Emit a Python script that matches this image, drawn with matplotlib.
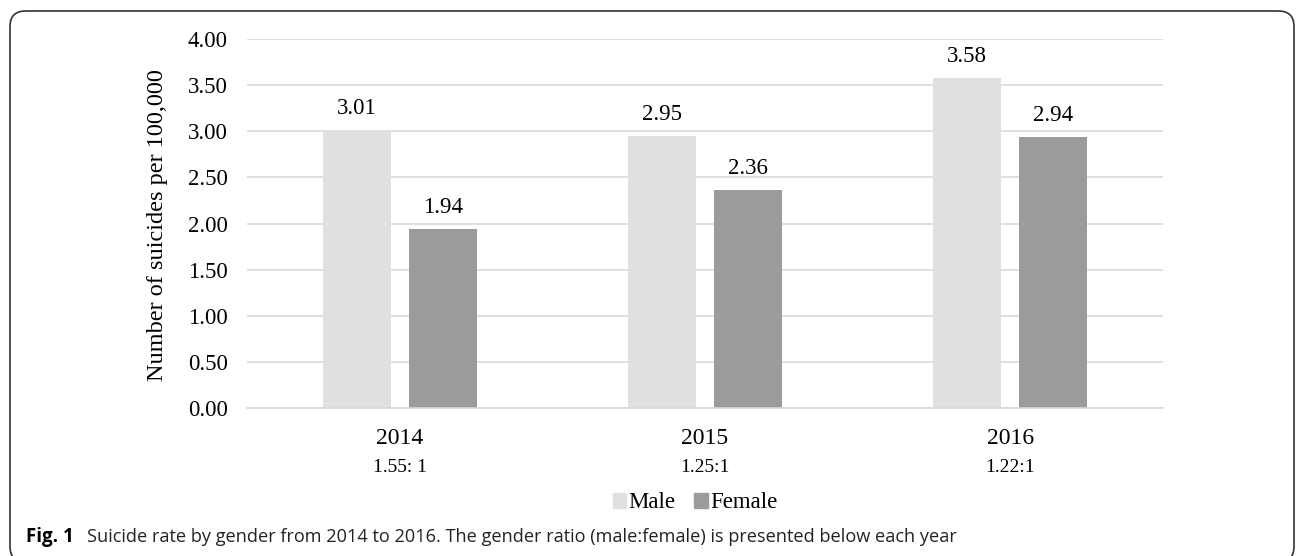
import matplotlib.pyplot as plt
from matplotlib.patches import FancyBboxPatch, Patch

years = ["2014", "2015", "2016"]
ratios = ["1.55: 1", "1.25:1", "1.22:1"]
male = [3.01, 2.95, 3.58]
female = [1.94, 2.36, 2.94]

W, H = 1296, 556
fig = plt.figure(figsize=(W / 100, H / 100), dpi=100)
serif = "Liberation Serif"

# outer rounded frame (bottom runs just past the image edge)
frame = FancyBboxPatch((10 / W, -6 / H), 1284 / W, (H - 11 + 6) / H,
                       boxstyle="round,pad=0,rounding_size=0.012",
                       transform=fig.transFigure, fill=False,
                       edgecolor="#333333", linewidth=1.2, clip_on=False,
                       mutation_aspect=W / H)
fig.patches.append(frame)

ax = fig.add_axes([247 / W, 1 - 408 / H, 916 / W, 369 / H])
x = list(range(len(years)))
bw = 0.223
off = 0.141
mbars = ax.bar([i - off for i in x], male, bw, color="#e0e0e0", zorder=2)
fbars = ax.bar([i + off for i in x], female, bw, color="#9b9b9b", zorder=2)

for bars, vals in ((mbars, male), (fbars, female)):
    for b, v in zip(bars, vals):
        ax.text(b.get_x() + b.get_width() / 2, v + 0.12, f"{v:.2f}",
                ha="center", va="bottom", fontsize=16.5, family=serif)

ax.set_xlim(-0.5, 2.5)
ax.set_ylim(0, 4)
ax.set_yticks([i * 0.5 for i in range(9)])
ax.set_yticklabels([f"{i * 0.5:.2f}" for i in range(9)], family=serif, fontsize=16.5)
ax.grid(axis="y", color="#d9d9d9", linewidth=1.2, zorder=0)
ax.set_xticks(x)
ax.set_xticklabels([])
for i in x:
    ax.text(i, -0.33, years[i], ha="center", va="center", fontsize=17, family=serif)
    ax.text(i, -0.64, ratios[i], ha="center", va="center", fontsize=14, family=serif)
ax.tick_params(axis="both", length=0, pad=14)
for s in ["top", "right", "left"]:
    ax.spines[s].set_visible(False)
ax.spines["bottom"].set_color("#d9d9d9")
ax.spines["bottom"].set_linewidth(1.2)

fig.text(157 / W, 1 - 225 / H, "Number of suicides per 100,000", rotation=90,
         ha="center", va="center", fontsize=17.5, family=serif)

handles = [Patch(color="#e0e0e0", label="Male"), Patch(color="#9b9b9b", label="Female")]
fig.legend(handles=handles, loc="center", bbox_to_anchor=(695 / W, 1 - 503 / H),
           ncol=2, frameon=False, prop={"family": serif, "size": 16.5},
           handlelength=0.6, handleheight=0.6, handletextpad=0.1, columnspacing=0.8)

fig.text(26 / W, 1 - 537 / H, "Fig. 1", fontsize=13.5, fontweight="bold",
         family="Open Sans", va="center", ha="left")
fig.text(87 / W, 1 - 537 / H,
         "Suicide rate by gender from 2014 to 2016. The gender ratio (male:female) is presented below each year",
         fontsize=13.1, family="Open Sans", va="center", ha="left", color="#222222")

fig.savefig("out.png", dpi=100)
